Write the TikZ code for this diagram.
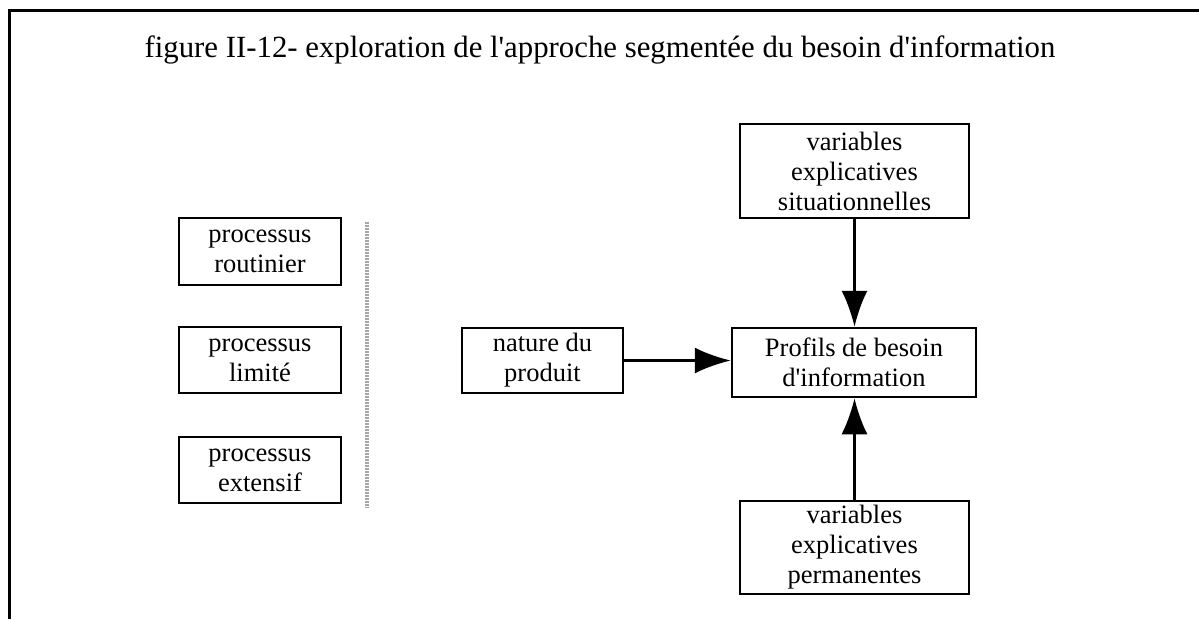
\documentclass[tikz,border=0pt]{standalone}
\usepackage{fontspec}
% keep straight apostrophes: no TeX ligature mapping
\setmainfont{Liberation Serif}[Ligatures=TeXOff]
\usetikzlibrary{arrows.meta}
\begin{document}
\begin{tikzpicture}[x=1pt,y=-1pt,
  box/.style={draw, line width=2.5pt, rectangle, inner sep=0pt, align=center,
    font=\fontsize{26.5}{30}\selectfont},
  link/.style={line width=2.5pt, -{Latex[length=36pt,width=26pt]}}]
  \useasboundingbox (0,0) rectangle (1199,619);
  % page frame (left and top edges)
  \draw[line width=3pt] (9.5,619) -- (9.5,10.5) -- (1199,10.5);
  % title
  \node[font=\fontsize{30.8}{34}\selectfont, anchor=base] (title) at (600,57)
    {figure II-12- exploration de l'approche segmentée du besoin d'information};
  % decision processes
  \node[box, minimum width=162pt, minimum height=67pt] (rout) at (260,251.5) {processus\\routinier};
  \node[box, minimum width=162pt, minimum height=66pt] (lim) at (260,360) {processus\\limité};
  \node[box, minimum width=162pt, minimum height=66pt] (ext) at (260,470) {processus\\extensif};
  % separator
  \draw[gray!70, line width=4pt, dash pattern=on 1.5pt off 1.5pt] (367,222) -- (367,508);
  % segmentation model
  \node[box, minimum width=161pt, minimum height=65pt] (nat) at (542.5,360.5) {nature du\\produit};
  \node[box, minimum width=244pt, minimum height=69pt] (prof) at (854,362.5) {Profils de besoin\\d'information};
  \node[box, minimum width=229pt, minimum height=94pt] (sit) at (854.5,171) {variables\\explicatives\\situationnelles};
  \node[box, minimum width=229pt, minimum height=93pt] (perm) at (854.5,547.5) {variables\\explicatives\\permanentes};
  \draw[link] (nat.east) -- (prof.west |- nat.east);
  \draw[link] (sit.south) -- (sit.south |- prof.north);
  \draw[link] (perm.north) -- (perm.north |- prof.south);
\end{tikzpicture}
\end{document}
